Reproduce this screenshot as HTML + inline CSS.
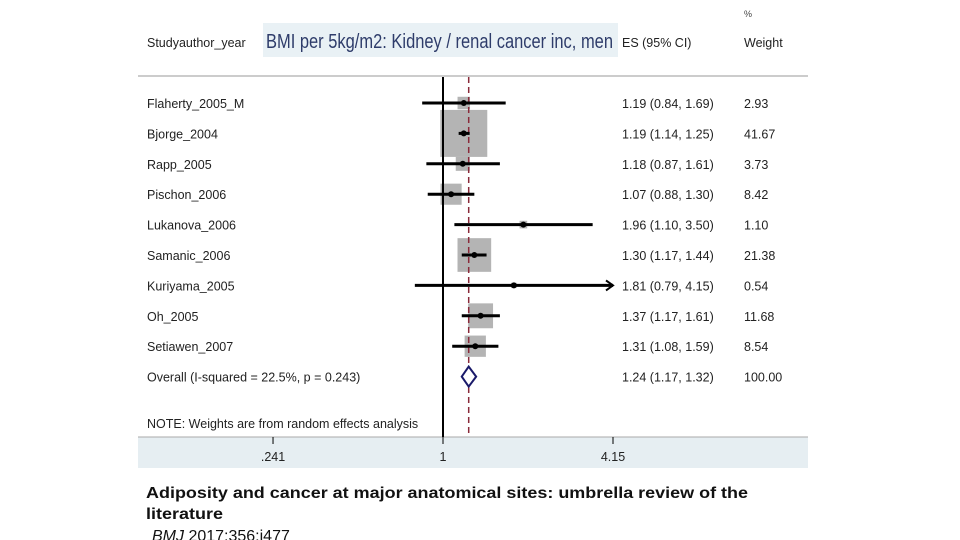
<!DOCTYPE html>
<html><head><meta charset="utf-8"><style>
body{margin:0;width:960px;height:540px;background:#fff;overflow:hidden;font-family:"Liberation Sans",sans-serif}
</style></head><body>
<svg width="960" height="540" style="position:absolute;left:0;top:0">
<rect x="138" y="437" width="670" height="31" fill="#e6eef2"/>
<rect x="263" y="23" width="355" height="34" fill="#e9f1f5"/>
<text x="266" y="48" font-size="20" fill="#2e3c6a" textLength="347" lengthAdjust="spacingAndGlyphs">BMI per 5kg/m2: Kidney / renal cancer inc, men</text>
<text x="147" y="47" font-size="12.5" fill="#222">Studyauthor_year</text>
<text x="622" y="47" font-size="12.5" fill="#222">ES (95% CI)</text>
<text x="744" y="47" font-size="12.5" fill="#222">Weight</text>
<text x="744" y="17" font-size="9" fill="#444">%</text>
<line x1="138" y1="76" x2="808" y2="76" stroke="#bbb" stroke-width="1.5"/>
<line x1="138" y1="437" x2="808" y2="437" stroke="#aaa" stroke-width="1"/>
<g id="plot"></g>
<text x="147" y="428" font-size="12.5" fill="#222">NOTE: Weights are from random effects analysis</text>
<text x="146" y="498" font-size="16" font-weight="bold" fill="#111" textLength="602" lengthAdjust="spacingAndGlyphs">Adiposity and cancer at major anatomical sites: umbrella review of the</text>
<text x="146" y="519" font-size="16" font-weight="bold" fill="#111" textLength="77" lengthAdjust="spacingAndGlyphs">literature</text>
<text x="152" y="541" font-size="16" fill="#111"><tspan font-style="italic">BMJ</tspan> 2017;356:j477</text>
</svg>
<script>
const studies=["Flaherty_2005_M","Bjorge_2004","Rapp_2005","Pischon_2006","Lukanova_2006","Samanic_2006","Kuriyama_2005","Oh_2005","Setiawen_2007"];
const es=[1.19,1.19,1.18,1.07,1.96,1.30,1.81,1.37,1.31];
const lo=[0.84,1.14,0.87,0.88,1.10,1.17,0.79,1.17,1.08];
const hi=[1.69,1.25,1.61,1.30,3.50,1.44,4.15,1.61,1.59];
const weights=[2.93,41.67,3.73,8.42,1.10,21.38,0.54,11.68,8.54];
const overall=[1.24,1.17,1.32];
const ticks=[0.241,1,4.15];
const tickLabels=[".241","1","4.15"];
const NS="http://www.w3.org/2000/svg";
const g=document.getElementById('plot');
const xs=v=>443+Math.log(v)*170/Math.log(4.15);
const rowY=i=>103+i*30.4;
function mk(t,a){const e=document.createElementNS(NS,t);for(const k in a)e.setAttribute(k,a[k]);g.appendChild(e);return e;}
const f=v=>v.toFixed(2);
studies.forEach((s,i)=>{
 const y=rowY(i),sd=47*Math.sqrt(weights[i]/41.67),cx=xs(es[i]);
 const b=mk('rect',{x:cx-sd/2,y:y-sd/2,width:sd,height:sd,fill:'#b4b4b4'});
 
 
});
const vl=mk('line',{x1:xs(1),y1:77,x2:xs(1),y2:437,stroke:'#000','stroke-width':2});


const dl=mk('line',{x1:xs(overall[0]),y1:77,x2:xs(overall[0]),y2:437,stroke:'#8a2a3a','stroke-width':1.5,'stroke-dasharray':'6,4'});


studies.forEach((s,i)=>{
 const y=rowY(i);
 const l=mk('line',{x1:xs(lo[i]),y1:y,x2:xs(hi[i]),y2:y,stroke:'#000','stroke-width':3});
 
 
 if(hi[i]>=4.15){const a=mk('path',{d:`M${xs(hi[i])-7},${y-5}L${xs(hi[i])},${y}L${xs(hi[i])-7},${y+5}`,fill:'none',stroke:'#000','stroke-width':2});
 
 }
 const p=mk('circle',{cx:xs(es[i]),cy:y,r:3,fill:'#000'});
 
 
 const t1=mk('text',{x:147,y:y+5,'font-size':12.5,fill:'#222'});t1.textContent=s;
 
 
 const t2=mk('text',{x:622,y:y+5,'font-size':12.5,fill:'#222'});t2.textContent=`${f(es[i])} (${f(lo[i])}, ${f(hi[i])})`;
 
 
 const t3=mk('text',{x:744,y:y+5,'font-size':12.5,fill:'#222'});t3.textContent=f(weights[i]);
 
 
});
const oy=rowY(9);
const d=mk('path',{d:`M${xs(overall[1])},${oy}L${xs(overall[0])},${oy-10}L${xs(overall[2])},${oy}L${xs(overall[0])},${oy+10}Z`,fill:'#fff',stroke:'#1a1a6a','stroke-width':2});


const o1=mk('text',{x:147,y:oy+5,'font-size':12.5,fill:'#222'});o1.textContent='Overall  (I-squared = 22.5%, p = 0.243)';


const o2=mk('text',{x:622,y:oy+5,'font-size':12.5,fill:'#222'});o2.textContent=`${f(overall[0])} (${f(overall[1])}, ${f(overall[2])})`;


const o3=mk('text',{x:744,y:oy+5,'font-size':12.5,fill:'#222'});o3.textContent='100.00';


ticks.forEach((v,i)=>{
 const tl=mk('line',{x1:xs(v),y1:437,x2:xs(v),y2:444,stroke:'#000','stroke-width':1});
 
 
 const tt=mk('text',{x:xs(v),y:461,'font-size':12.5,fill:'#222','text-anchor':'middle'});tt.textContent=tickLabels[i];
 
 
});
</script>
</body></html>
